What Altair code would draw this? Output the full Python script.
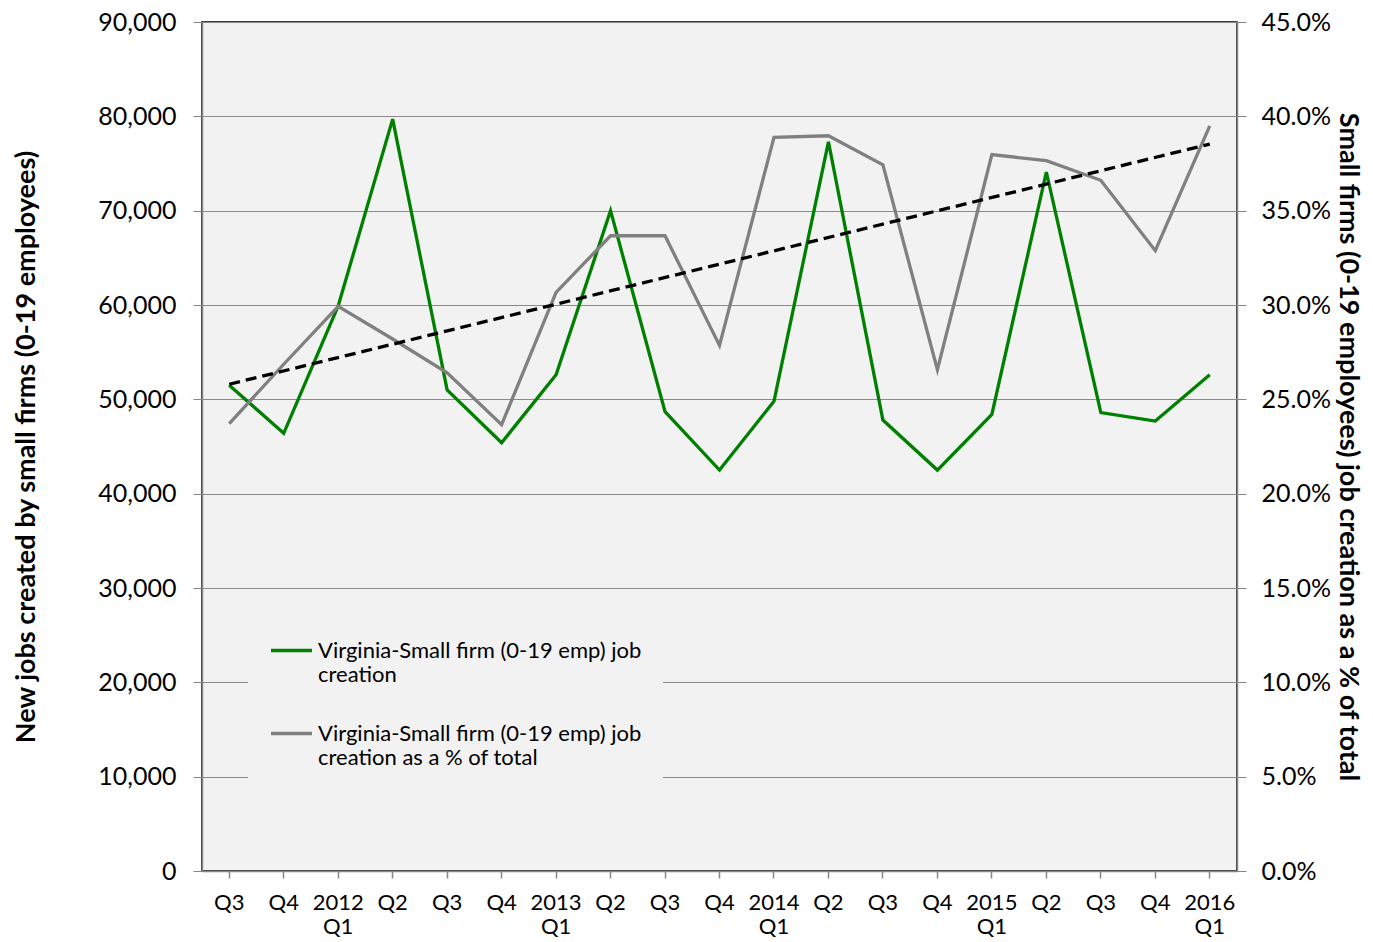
import altair as alt
import pandas as pd

quarters = ["2011 Q3", "2011 Q4", "2012 Q1", "2012 Q2", "2012 Q3", "2012 Q4",
            "2013 Q1", "2013 Q2", "2013 Q3", "2013 Q4", "2014 Q1", "2014 Q2",
            "2014 Q3", "2014 Q4", "2015 Q1", "2015 Q2", "2015 Q3", "2015 Q4",
            "2016 Q1"]
jobs = [51500, 46400, 59900, 79700, 51000, 45400, 52600, 70000, 48700, 42500,
        49800, 77300, 47800, 42500, 48400, 74100, 48600, 47700, 52600]
share = [0.2371, 0.2686, 0.2993, 0.2820, 0.2640, 0.2366, 0.3067, 0.3367,
         0.3367, 0.2786, 0.3889, 0.3897, 0.3743, 0.2657, 0.3797, 0.3765,
         0.3661, 0.3288, 0.3949]
# linear trendline of the % series (endpoints)
trend_quarters = ["2011 Q3", "2016 Q1"]
trend_values = [0.2580, 0.3853]
series_names = ["Virginia-Small firm (0-19 emp) job creation",
                "Virginia-Small firm (0-19 emp) job creation as a % of total"]
legend_lines = [["Virginia-Small firm (0-19 emp) job", "creation"],
                ["Virginia-Small firm (0-19 emp) job", "creation as a % of total"]]
left_ticks = [0, 10000, 20000, 30000, 40000, 50000, 60000, 70000, 80000, 90000]
right_ticks = [0.0, 0.05, 0.10, 0.15, 0.20, 0.25, 0.30, 0.35, 0.40, 0.45]
left_title = "New jobs created by small firms (0-19 employees)"
right_title = "Small firms (0-19 employees) job creation as a % of total"

GREEN = "#008000"
GRAY = "#808080"
BG = "#f2f2f2"
AXIS = "#868686"
FONT = "Lato"

df_jobs = pd.DataFrame({"quarter": quarters, "value": jobs,
                        "series": [series_names[0]] * len(quarters)})
df_share = pd.DataFrame({"quarter": quarters, "value": share,
                         "series": [series_names[1]] * len(quarters)})
df_trend = pd.DataFrame({"quarter": trend_quarters, "value": trend_values})


def js_list(lst):
    return "[" + ",".join("'" + s + "'" for s in lst) + "]"


legend_expr = "datum.label == '%s' ? %s : %s" % (
    series_names[0], js_list(legend_lines[0]), js_list(legend_lines[1]))
x_label_expr = ("slice(datum.value, 5) == 'Q1' ? split(datum.value, ' ') : "
                "slice(datum.value, 5)")

x_enc = alt.X(
    "quarter:N",
    scale=alt.Scale(type="band", domain=quarters, paddingInner=0, paddingOuter=0),
    axis=alt.Axis(title=None, labelAngle=0, labelExpr=x_label_expr,
                  labelFont=FONT, labelFontSize=22,
                  labelPadding=14, labelColor="#000000", tickSize=7,
                  tickColor=AXIS, tickWidth=1.5, domainColor=AXIS, domainWidth=1.5,
                  grid=False),
)

color_enc = alt.Color(
    "series:N",
    scale=alt.Scale(domain=series_names, range=[GREEN, GRAY]),
    legend=alt.Legend(title=None, orient="none", legendX=46, legendY=585,
                      fillColor=BG, padding=21, symbolType="stroke",
                      symbolSize=1681, symbolStrokeWidth=3.5,
                      labelFont=FONT, labelFontSize=22, labelColor="#000000",
                      labelLimit=0, labelOffset=4, rowPadding=25,
                      labelExpr=legend_expr),
)

green = alt.Chart(df_jobs).mark_line(strokeWidth=3.3).encode(
    x=x_enc,
    y=alt.Y("value:Q",
            scale=alt.Scale(domain=[0, 90000], nice=False, zero=True),
            axis=alt.Axis(title=left_title, values=left_ticks, format=",d",
                          labelFont=FONT, labelFontSize=25, labelColor="#000000",
                          labelPadding=17, tickSize=9, tickColor=AXIS,
                          domainColor=AXIS, domainWidth=1.5,
                          grid=True, gridColor="#8a8a8a", gridWidth=1,
                          titleFont=FONT, titleFontSize=27, titleFontWeight="bold",
                          titleColor="#000000", titlePadding=57)),
    color=color_enc,
)

gray = alt.Chart(df_share).mark_line(strokeWidth=3.3).encode(
    x=x_enc,
    y=alt.Y("value:Q", scale=alt.Scale(domain=[0, 0.45], nice=False, zero=True),
            axis=alt.Axis(title=right_title, orient="right", values=right_ticks,
                          format=".1%", labelFont=FONT, labelFontSize=25,
                          labelColor="#000000", labelPadding=15, tickSize=9,
                          tickColor=AXIS, domainColor=AXIS, domainWidth=1.5,
                          grid=False, titleFont=FONT, titleFontSize=27,
                          titleFontWeight="bold", titleColor="#000000",
                          titlePadding=3)),
    color=color_enc,
)

trend = alt.Chart(df_trend).mark_line(
    strokeWidth=3.3, strokeDash=[11, 6], color="#000000").encode(
    x=x_enc,
    y=alt.Y("value:Q", scale=alt.Scale(domain=[0, 0.45], nice=False, zero=True),
            axis=None),
)

chart = alt.layer(green, gray, trend).resolve_scale(
    y="independent").properties(
    width=1035, height=849,
    padding={"left": 4, "top": 2, "right": 0, "bottom": 0},
).configure_view(fill=BG, stroke="#000000", strokeWidth=1.5)

chart.save("out.html", embed_options={"renderer": "svg", "actions": False})
